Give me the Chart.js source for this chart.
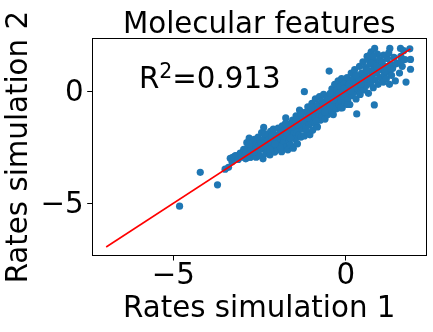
<!DOCTYPE html>
<html>
<head>
<meta charset="utf-8">
<script src="https://cdn.jsdelivr.net/npm/chart.js@4.4.1/dist/chart.umd.min.js"></script>
<style>
  html, body { margin: 0; padding: 0; background: #fff; }
  #wrap { width: 433px; height: 332px; }
</style>
</head>
<body>
<div id="wrap"><canvas id="chart" width="433" height="332"></canvas></div>
<script>
// ===== data =====
const simX = [
  -4.82, -4.22, -3.72, -3.50, -3.40, -3.28, -3.21, -3.06, -2.92, -2.77,
  -3.35, -3.30, -3.25, -3.18, -3.12, -3.05, -3.02, -2.96, -2.93, -2.90, -2.87, -2.85,
  -2.82, -2.80, -2.77, -2.74, -2.72, -2.70, -2.68, -2.65, -2.62, -2.60, -2.58,
  -2.56, -2.54, -2.52, -2.50, -2.48, -2.46, -2.44, -2.42, -2.40, -2.38, -2.36, -2.34, -2.32, -2.30,
  -2.28, -2.26, -2.24, -2.22, -2.20, -2.18, -2.16, -2.14, -2.12, -2.10, -2.08, -2.06, -2.04, -2.02,
  -1.98, -1.96, -1.94, -1.92, -1.90, -1.88, -1.86, -1.84, -1.82, -1.80, -1.78, -1.76,
  -1.74, -1.72, -1.70, -1.68, -1.66, -1.64, -1.62, -1.60, -1.58, -1.56, -1.54, -1.52,
  -1.50, -1.48, -1.46, -1.44, -1.42, -1.40, -1.38, -1.36, -1.34, -1.32, -1.30, -1.28, -1.26,
  -1.20, -1.22, -1.20, -1.18, -1.16, -1.14, -1.12, -1.10, -1.08, -1.06, -1.04, -1.02,
  -1.00, -0.98, -0.96, -0.94, -0.92, -0.90, -0.88, -0.86, -0.84, -0.82, -0.80, -0.78, -0.76,
  -0.74, -0.72, -0.70, -0.68, -0.66, -0.64, -0.62, -0.60, -0.58, -0.56, -0.54, -0.52,
  -0.50, -0.48, -0.46, -0.44, -0.42, -0.40, -0.38, -0.36, -0.34, -0.32, -0.30, -0.28, -0.26,
  -0.24, -0.22, -0.20, -0.18, -0.16, -0.14, -0.12, -0.10, -0.08, -0.06, -0.04, -0.02,
  0.00, 0.02, 0.04, 0.06, 0.08, 0.10, 0.12, 0.14, 0.16, 0.18, 0.20, 0.22, 0.24,
  0.26, 0.28, 0.30, 0.32, 0.34, 0.36, 0.38, 0.40, 0.42, 0.44, 0.46, 0.48,
  0.50, 0.52, 0.54, 0.56, 0.58, 0.60, 0.62, 0.64, 0.66, 0.68, 0.70, 0.72, 0.74,
  0.76, 0.78, 0.80, 0.82, 0.83, 0.84, 0.86, 0.88, 0.90, 0.92, 0.94, 0.96, 0.98,
  1.00, 1.03, 1.06, 1.09, 1.12, 1.15, 1.18, 1.21, 1.24, 1.27, 1.30, 1.33, 1.36, 1.40,
  1.44, 1.59, 1.52, 1.56, 1.60, 1.64, 1.68, 1.72, 1.75, 1.28, 1.86, 1.88, 1.88,
  -2.90, -2.75, -2.60, -2.45, -2.30, -2.15, -2.00, -1.85, -1.70, -1.55,
  -1.40, -1.25, -1.10, -0.95, -0.80, -0.65, -0.50, -0.35, -0.20, -0.05,
  0.10, 0.25, 0.40, 0.55, 0.70, 0.85, 1.00, 1.15, 1.30, 1.45,
  1.60, 0.65, 0.70, 0.75, 0.80, 0.90, 1.10, 1.25, 0.60, 0.45,
  0.30, 0.15, 0.05, -0.15, -0.45, -0.60, -0.85, -1.00, -1.15, -1.30,
  -1.45, -1.60, -1.75, -1.90, -2.05, -2.20, -2.35, -2.50, -2.65, -2.80
];
const simY = [
  -5.13, -3.62, -4.18, -3.48, -3.40, -2.95, -2.89, -2.77, -2.89, -2.95,
  -3.00, -3.15, -2.95, -2.88, -3.05, -2.78, -2.95, -2.60, -2.85, -3.02, -2.30, -2.55,
  -2.72, -2.10, -2.95, -2.45, -2.62, -2.28, -2.80, -2.15, -2.50, -2.95, -2.35,
  -2.70, -2.05, -2.42, -2.88, -2.20, -2.58, -1.85, -2.35, -3.02, -1.62, -2.12, -2.50, -2.78, -2.25,
  -1.95, -2.62, -2.40, -2.05, -2.85, -1.80, -2.30, -2.55, -2.12, -1.70, -2.45, -2.72, -1.95, -2.25,
  -2.60, -1.65, -2.05, -2.38, -1.85, -2.15, -2.70, -1.55, -1.98, -2.30, -1.75, -2.50,
  -1.20, -2.05, -1.62, -2.62, -1.85, -2.20, -1.45, -2.40, -1.70, -2.05, -1.30, -2.55,
  -1.90, -1.52, -2.15, -1.10, -1.75, -2.35, -1.35, -1.95, -0.85, -1.55, -2.05, -1.20, -1.70,
  -0.03, -1.45, -2.00, -0.95, -1.62, -1.30, -1.85, -0.70, -1.15, -1.50, -1.95, -0.95,
  -1.35, -0.55, -1.75, -1.10, -0.80, -1.45, -0.35, -1.20, -0.95, -1.60, -0.60, -1.05, -0.25,
  -1.30, -0.80, -0.45, -1.10, -0.65, -0.15, -0.90, -1.25, -0.50, -0.75, -0.30, -1.05,
  -0.55, 0.89, -0.20, -0.85, -0.40, 0.10, -0.65, -1.05, -0.15, 0.30, -0.48, -0.80, 0.05,
  -0.30, 0.45, -0.60, -0.10, 0.20, -0.40, 0.55, -0.75, 0.00, -0.25, 0.35, -0.50,
  0.15, -0.15, 0.60, -0.40, 0.28, 0.05, -0.60, 0.45, 0.80, -0.20, 0.20, 0.55, -0.05,
  0.95, 0.35, -0.35, -1.02, 0.10, 0.65, 0.25, 1.10, -0.15, 0.50, 0.80, 0.15,
  1.30, 0.40, 0.05, 0.70, 1.05, 0.25, 1.55, 0.55, -0.10, 0.90, 1.20, 0.35, 1.75,
  0.65, 1.45, 0.15, 1.00, -0.62, 1.90, 0.50, 1.25, 0.80, 1.65, 0.30, 1.05, 1.40,
  0.60, 0.95, 1.30, 0.40, 0.75, 1.10, 0.55, 1.45, 0.85, 0.30, 1.20, 0.70, 1.00, 1.50,
  0.45, 1.90, 1.25, 0.80, 1.55, 1.10, 1.80, 1.40, 0.40, 1.90, 1.88, 1.41, 0.97,
  -2.70, -2.60, -2.55, -2.30, -2.45, -2.00, -2.15, -1.85, -1.90, -1.60,
  -1.50, -1.30, -1.20, -0.90, -0.85, -0.60, -0.35, -0.40, -0.10, 0.10,
  0.30, 0.15, 0.45, 0.60, 0.60, 0.85, 1.05, 0.90, 1.00, 1.20,
  1.30, 1.40, 1.60, 1.25, 1.55, 1.10, 1.60, 1.70, 0.95, 0.30,
  0.70, 0.00, -0.60, -0.75, -0.10, -0.95, -1.35, -0.70, -1.70, -1.00,
  -1.30, -2.10, -1.45, -2.50, -2.35, -2.60, -1.90, -2.60, -2.70, -2.35
];
// fitted line end points
const fitX = [-6.95, 1.88];
const fitY = [-6.95, 1.88];
const xTicks = [-5, 0];
const yTicks = [-5, 0];
const xRange = [-7.37, 2.35];
const yRange = [-7.35, 2.35];
const chartTitle = "Molecular features";
const r2Value = "0.913";
const r2At = { x: -6.0, y: 0.12 };

const FONT = "'DejaVu Sans', sans-serif";
const FS = 29.3;
Chart.defaults.font.family = FONT;
Chart.defaults.color = "#000";

const fmtTick = (v) => String(v).replace("-", "\u2212");

// рамка вокруг области графика, заголовок и подпись R^2
const framePlugin = {
  id: "frame",
  afterDraw(chart) {
    const { ctx, chartArea: a, scales } = chart;
    ctx.save();
    ctx.strokeStyle = "#000";
    ctx.lineWidth = 1;
    const l = Math.round(a.left) + 0.5, t = Math.round(a.top) + 0.5;
    const r = Math.round(a.right) - 0.5, b = Math.round(a.bottom) - 0.5;
    ctx.strokeRect(l, t, r - l, b - t);

    ctx.fillStyle = "#000";
    ctx.font = FS + "px " + FONT;
    ctx.textBaseline = "alphabetic";
    ctx.textAlign = "center";
    ctx.fillText(chartTitle, (a.left + a.right) / 2, a.top - 5.3);

    const px = scales.x.getPixelForValue(r2At.x);
    const py = scales.y.getPixelForValue(r2At.y);
    ctx.textAlign = "left";
    ctx.fillText("R", px, py);
    let w = ctx.measureText("R").width;
    ctx.font = (FS * 0.7).toFixed(1) + "px " + FONT;
    ctx.fillText("2", px + w, py - 10.6);
    w += ctx.measureText("2").width;
    ctx.font = FS + "px " + FONT;
    ctx.fillText("=" + r2Value, px + w, py);
    ctx.restore();
  },
};

const ctx = document.getElementById("chart").getContext("2d");
new Chart(ctx, {
  type: "scatter",
  data: {
    datasets: [
      {
        label: "fit",
        data: fitX.map((v, i) => ({ x: v, y: fitY[i] })),
        showLine: true,
        borderColor: "#ff0000",
        borderWidth: 1.6,
        pointRadius: 0,
        fill: false,
      },
      {
        label: "rates",
        data: simX.map((v, i) => ({ x: v, y: simY[i] })),
        backgroundColor: "#1f77b4",
        borderWidth: 0,
        pointRadius: 3.6,
      },
    ],
  },
  options: {
    responsive: false,
    animation: false,
    layout: { padding: { left: 0, right: 6.3, top: 38.3, bottom: 0 } },
    plugins: {
      legend: { display: false },
      tooltip: { enabled: false },
      title: { display: false },
    },
    scales: {
      x: {
        type: "linear",
        min: xRange[0],
        max: xRange[1],
        afterFit: (s) => { s.height = 76; },
        afterBuildTicks: (s) => { s.ticks = xTicks.map((v) => ({ value: v })); },
        ticks: { font: { size: FS, lineHeight: 1.1 }, color: "#000", padding: 0, maxRotation: 0, callback: fmtTick },
        grid: { drawOnChartArea: false, drawTicks: true, tickLength: 4.5, tickColor: "#000" },
        border: { display: false },
        title: { display: true, text: "Rates simulation 1", color: "#000", font: { size: FS }, padding: { top: 0, bottom: 5.5 } },
      },
      y: {
        type: "linear",
        min: yRange[0],
        max: yRange[1],
        afterFit: (s) => { s.width = 91.7; },
        afterBuildTicks: (s) => { s.ticks = yTicks.map((v) => ({ value: v })); },
        ticks: { font: { size: FS }, color: "#000", padding: 3.5, labelOffset: 2.5, callback: fmtTick },
        grid: { drawOnChartArea: false, drawTicks: true, tickLength: 4.5, tickColor: "#000" },
        border: { display: false },
        title: { display: true, text: "Rates simulation 2", color: "#000", font: { size: FS }, padding: { top: 2.3, bottom: 0 } },
      },
    },
  },
  plugins: [framePlugin],
});
</script>
</body>
</html>
